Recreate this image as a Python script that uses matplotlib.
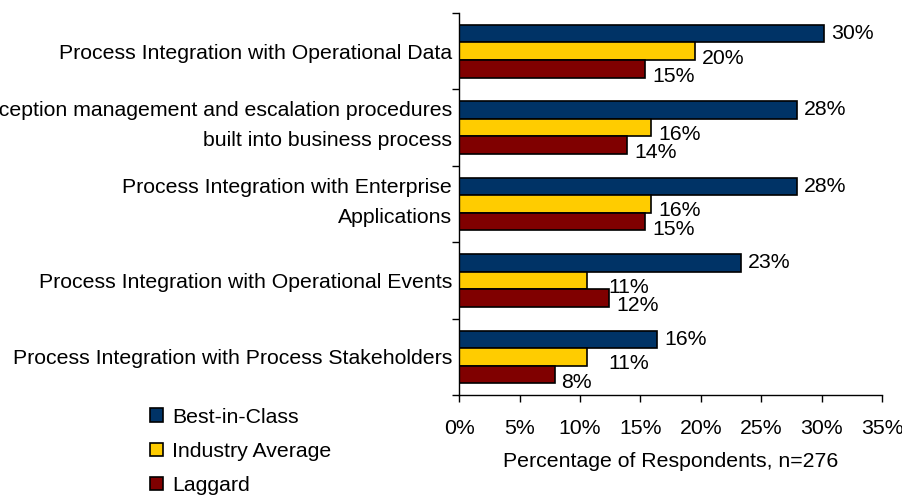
import matplotlib
matplotlib.use("Agg")
import matplotlib.pyplot as plt
import numpy as np
from matplotlib.ticker import FuncFormatter, FixedLocator

plt.rcParams['font.family'] = ['Liberation Sans', 'DejaVu Sans']

categories = [
    "Process Integration with Operational Data",
    "Exception management and escalation procedures\nbuilt into business process",
    "Process Integration with Enterprise\nApplications",
    "Process Integration with Operational Events",
    "Process Integration with Process Stakeholders",
]
series_names = ["Best-in-Class", "Industry Average", "Laggard"]
best = [30.2, 27.95, 27.95, 23.3, 16.4]
industry = [19.5, 15.9, 15.9, 10.6, 10.6]
laggard = [15.4, 13.9, 15.4, 12.4, 7.9]
best_lbl = ["30%", "28%", "28%", "23%", "16%"]
industry_lbl = ["20%", "16%", "16%", "11%", "11%"]
laggard_lbl = ["15%", "14%", "15%", "12%", "8%"]

colors = ["#003366", "#FFCC00", "#800000"]
fs = 15.3

fig = plt.figure(figsize=(9.02, 4.97), dpi=100)
ax = fig.add_axes([0.509, 0.205, 0.469, 0.769])

y = np.arange(len(categories))
h = 0.23
offsets = [-h, 0, h]
values = [best, industry, laggard]
labels = [best_lbl, industry_lbl, laggard_lbl]
dys = [0, -5.0, -5.5]
# extra nudge for labels that sit further right in the original
nudge = {(1, 3): 10, (1, 4): 10}

for s in range(3):
    ax.barh(y + offsets[s], values[s], height=h, color=colors[s],
            edgecolor="black", linewidth=1.2, label=series_names[s])
    for i, v in enumerate(values[s]):
        ax.annotate(labels[s][i], (v, y[i] + offsets[s]),
                    xytext=(5 + nudge.get((s, i), 0), dys[s]),
                    textcoords="offset points", ha="left", va="center",
                    fontsize=fs)

ax.set_xlim(0, 35)
ax.set_ylim(len(categories) - 0.5, -0.5)
ax.set_xticks(np.arange(0, 36, 5))
ax.xaxis.set_major_formatter(FuncFormatter(lambda x, p: f"{x:.0f}%"))
# two-line labels sit a little higher in the original
label_pos = [i - 0.12 if "\n" in c else i for i, c in enumerate(categories)]
ax.set_yticks(label_pos)
ax.set_yticklabels(categories, fontsize=fs, linespacing=1.72)
ax.yaxis.set_minor_locator(FixedLocator(np.arange(-0.5, len(categories), 1)))
ax.tick_params(axis="y", which="major", length=0, pad=5)
ax.tick_params(axis="y", which="minor", length=5, width=1)
ax.tick_params(axis="x", length=5, width=1, labelsize=fs, pad=12)
ax.set_xlabel("Percentage of Respondents, n=276", fontsize=fs, labelpad=10)

for sp in ["top", "right"]:
    ax.spines[sp].set_visible(False)
for sp in ["left", "bottom"]:
    ax.spines[sp].set_linewidth(1)

handles, names = ax.get_legend_handles_labels()
fig.legend(handles, names, loc="upper left", bbox_to_anchor=(0.157, 0.197),
           frameon=False, fontsize=fs, handlelength=0.6, handleheight=0.6,
           handletextpad=0.45, labelspacing=0.72, borderaxespad=0)

fig.savefig("out.png", dpi=100)
